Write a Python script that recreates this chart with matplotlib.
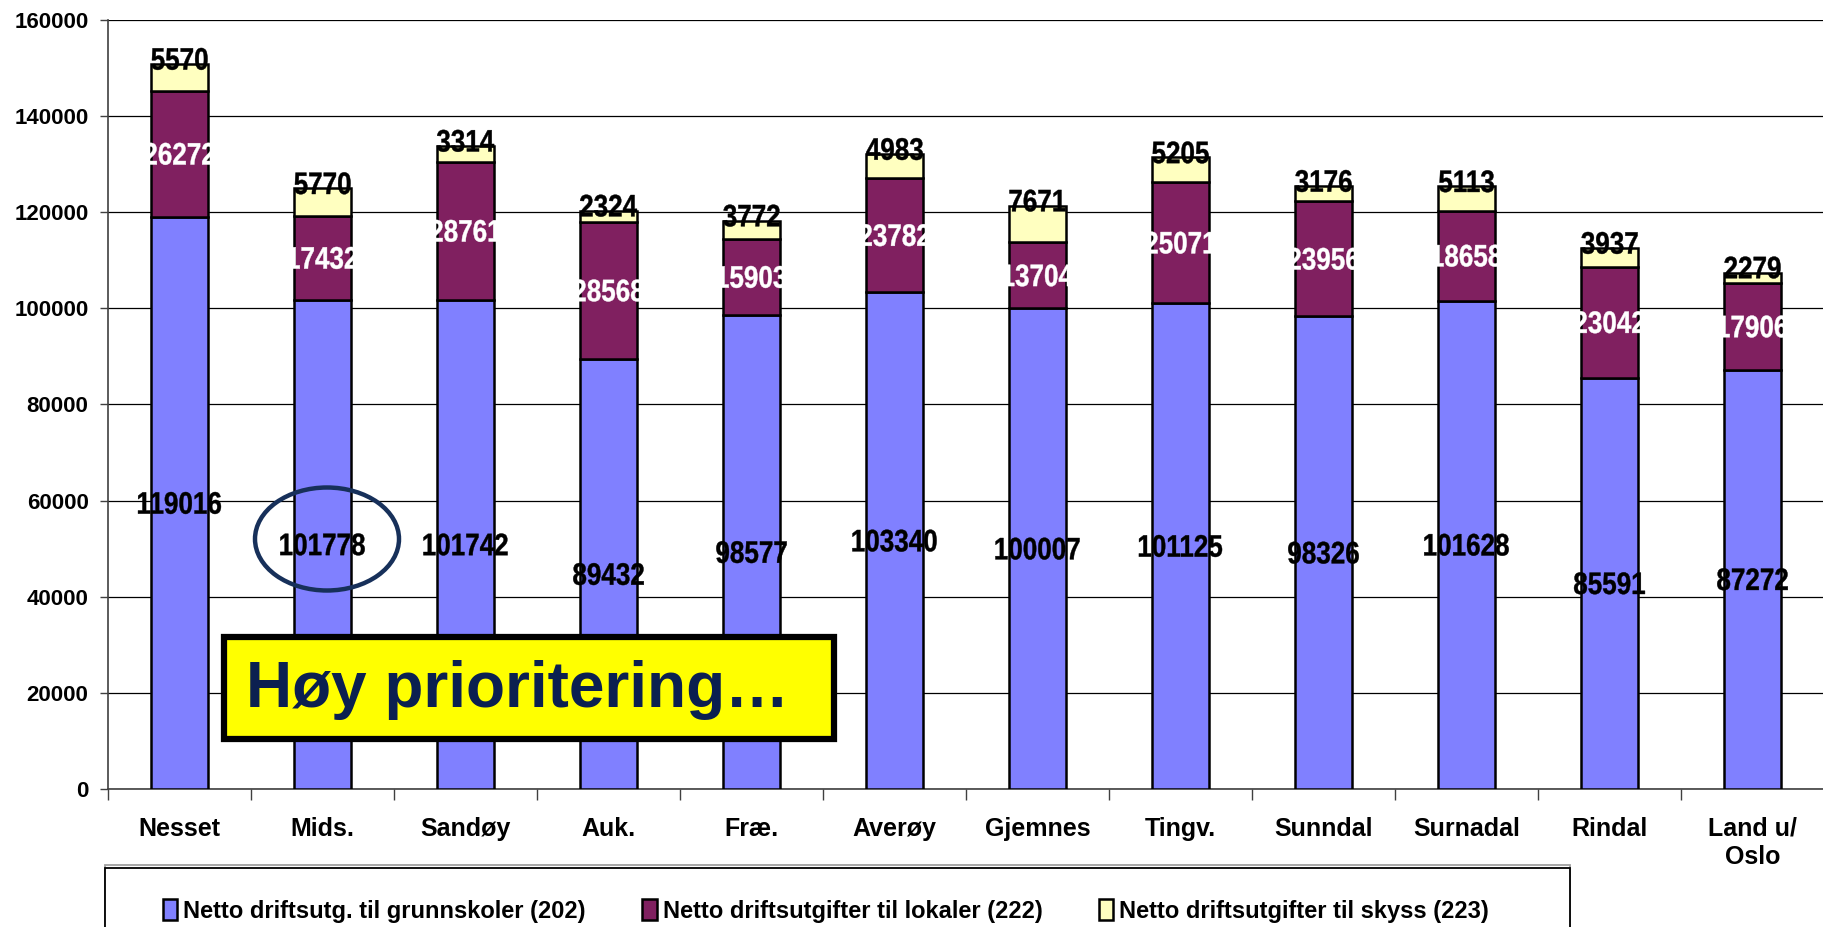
import matplotlib
matplotlib.use('Agg')
import matplotlib.pyplot as plt
from matplotlib.patches import Rectangle, Ellipse, PathPatch
from matplotlib.textpath import TextPath
from matplotlib.font_manager import FontProperties
from matplotlib.transforms import Affine2D, ScaledTranslation
import numpy as np

kommuner = ['Nesset', 'Mids.', 'Sandøy', 'Auk.', 'Fræ.', 'Averøy', 'Gjemnes',
            'Tingv.', 'Sunndal', 'Surnadal', 'Rindal', 'Land u/\nOslo']
grunnskoler = [119016, 101778, 101742, 89432, 98577, 103340, 100007, 101125, 98326, 101628, 85591, 87272]
lokaler = [26272, 17432, 28761, 28568, 15903, 23782, 13704, 25071, 23956, 18658, 23042, 17906]
skyss = [5570, 5770, 3314, 2324, 3772, 4983, 7671, 5205, 3176, 5113, 3937, 2279]
serienavn = ['Netto driftsutg. til grunnskoler (202)',
             'Netto driftsutgifter til lokaler (222)',
             'Netto driftsutgifter til skyss (223)']
yticks = [0, 20000, 40000, 60000, 80000, 100000, 120000, 140000, 160000]

plt.rcParams['font.family'] = ['Liberation Sans', 'DejaVu Sans']

W, H = 1824, 927
fig = plt.figure(figsize=(W / 100, H / 100), dpi=100)
ax = fig.add_axes([108 / W, 1 - 789 / H, (W - 108) / W, (789 - 20) / H])

x = np.arange(len(kommuner))
b1 = np.array(grunnskoler)
b2 = np.array(lokaler)
b3 = np.array(skyss)
bw = 0.40
kw = dict(width=bw, edgecolor='black', linewidth=1.8, zorder=3)
ax.bar(x, b1, color='#8080FF', label=serienavn[0], **kw)
ax.bar(x, b2, bottom=b1, color='#802060', label=serienavn[1], **kw)
ax.bar(x, b3, bottom=b1 + b2, color='#FFFFC0', label=serienavn[2], **kw)

# narrow bold data labels (Arial Narrow look): squeeze a text path sideways
fp = FontProperties(family='Liberation Sans', weight='bold')


def narrow_label(s, xv, yv, color, dy=0.0):
    path = TextPath((0, 0), s, size=31, prop=fp)
    bb = path.get_extents()
    tr = (Affine2D().translate(-(bb.x0 + bb.x1) / 2, -(bb.y0 + bb.y1) / 2 + dy).scale(0.84, 1)
          + ScaledTranslation(xv, yv, ax.transData))
    ax.add_patch(PathPatch(path, transform=tr, facecolor=color, edgecolor=color,
                           linewidth=0.3, zorder=5, clip_on=False))


for i in range(len(x)):
    narrow_label(str(b1[i]), x[i], b1[i] / 2, 'black')
    narrow_label(str(b2[i]), x[i], b1[i] + b2[i] / 2, 'white')
    narrow_label(str(b3[i]), x[i], b1[i] + b2[i] + b3[i], 'black', dy=5)

ax.set_ylim(0, 160000)
ax.set_xlim(-0.5, -0.5 + (W - 108) / 143.4)
ax.set_yticks(yticks)
ax.set_yticklabels([str(v) for v in yticks], fontsize=16, fontweight='bold')
ax.yaxis.grid(True, color='black', linewidth=0.9, zorder=0)
ax.set_axisbelow(True)
ax.tick_params(axis='y', length=6, width=1, pad=8, color='#404040')

ax.set_xticks(x)
ax.set_xticklabels(kommuner, fontsize=18, fontweight='bold')
ax.set_xticks(np.arange(len(x) + 1) - 0.5, minor=True)
ax.tick_params(axis='x', which='major', length=0, pad=20)
ax.tick_params(axis='x', which='minor', length=8, width=1, color='#404040')

for s in ['top', 'right']:
    ax.spines[s].set_visible(False)
ax.spines['left'].set_color('#404040')
ax.spines['bottom'].set_color('#404040')
ax.spines['left'].set_linewidth(1.2)
ax.spines['bottom'].set_linewidth(1.2)

# legend box (cut off at the bottom in the original), with a grey shadow line on top
fig.patches.append(Rectangle((105 / W, -0.02), (1570 - 105) / W, 0.02 + 1 - 865 / H,
                             transform=fig.transFigure, facecolor='none',
                             edgecolor='#A0A0A0', linewidth=1.3, zorder=1))
fig.patches.append(Rectangle((105 / W, -0.02), (1570 - 105) / W, 0.02 + 1 - 868 / H,
                             transform=fig.transFigure, facecolor='white',
                             edgecolor='black', linewidth=1.3, zorder=1))
leg = fig.legend(loc='center left', bbox_to_anchor=(142 / W, 1 - 911 / H), ncol=3,
                 frameon=False, prop=dict(size=17, weight='bold'),
                 handlelength=0.6, handleheight=1.0, handletextpad=0.25, columnspacing=2.4)
leg.set_zorder(2)

# yellow note box and ellipse
fig.patches.append(Rectangle((224 / W, 1 - 739 / H), (834 - 224) / W, (739 - 637) / H,
                             transform=fig.transFigure, facecolor='#FFFF00',
                             edgecolor='black', linewidth=4.5, zorder=6))
fig.text(246 / W, 1 - 690 / H, 'Høy prioritering…', fontsize=46, fontweight='bold',
         color='#0B2050', ha='left', va='center', zorder=7)
fig.patches.append(Ellipse((327 / W, 1 - 539 / H), 144 / W, 103 / H,
                           transform=fig.transFigure, facecolor='none',
                           edgecolor='#17305A', linewidth=3.2, zorder=7))

fig.savefig('out.png', dpi=100)
